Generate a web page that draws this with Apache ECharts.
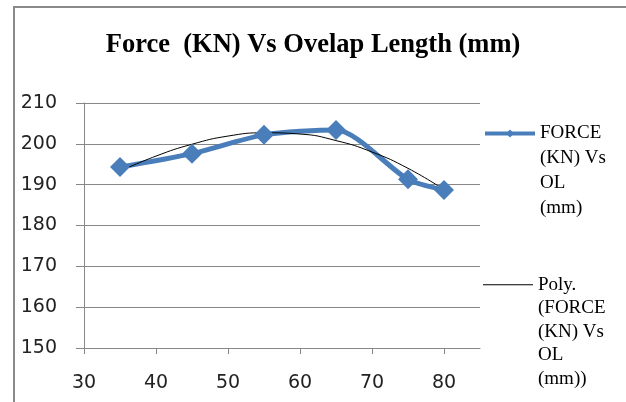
<!DOCTYPE html>
<html>
<head>
    <meta charset="utf-8">
    <title>Force Vs Ovelap Length</title>
    <script src="https://cdn.jsdelivr.net/npm/echarts@6/dist/echarts.min.js"></script>
    <style>
        html, body { margin: 0; padding: 0; background: #fff; }
    </style>
</head>
<body>
    <div id="main" style="width: 626px;height:402px;"></div>
    <script type="text/javascript">
        // data
        var overlap = [35, 45, 55, 65, 75, 80];
        var force = [194.3, 197.6, 202.2, 203.4, 191.3, 188.7];

        // polynomial trendline, read at points along the curve
        var trendX = [35, 40, 45, 50, 55, 60, 65, 70, 75, 80];
        var trendY = [193.3, 197.0, 199.9, 201.9, 202.7, 202.4, 200.8, 198.0, 194.0, 188.8];

        var xTicks = [30, 40, 50, 60, 70, 80];
        var seriesName = 'FORCE (KN) Vs OL (mm)';
        var trendName = 'Poly. (FORCE (KN) Vs OL (mm))';
        var seriesLines = ['FORCE', '(KN) Vs', 'OL', '(mm)'];
        var trendLines = ['Poly.', '(FORCE', '(KN) Vs', 'OL', '(mm))'];

        function pairs(xs, ys) {
            var out = [];
            for (var i = 0; i < xs.length; i++) {
                out.push([xs[i], ys[i]]);
            }
            return out;
        }

        // blank lines on top so the icon sits next to the first line
        function legendText(lines) {
            var pad = [];
            for (var i = 0; i < lines.length - 1; i++) pad.push('');
            return pad.concat(lines).join('\n');
        }

        var myChart = echarts.init(document.getElementById('main'));

        var gray = '#878787';
        var blue = '#4a7ebb';

        var option = {
            animation: false,
            title: {
                text: 'Force  (KN) Vs Ovelap Length (mm)',
                left: 'center',
                top: 27,
                textStyle: {
                    fontFamily: 'Liberation Serif',
                    fontWeight: 'bold',
                    fontSize: 26.5,
                    color: '#000'
                }
            },
            legend: [{
                data: [seriesName],
                left: 483,
                top: 46,
                padding: 0,
                itemWidth: 50,
                itemHeight: 10,
                lineStyle: { width: 4 },
                formatter: function () { return legendText(seriesLines); },
                textStyle: {
                    fontFamily: 'Liberation Serif',
                    fontSize: 19,
                    lineHeight: 25,
                    color: '#000'
                }
            }, {
                data: [{ name: trendName, icon: 'rect' }],
                left: 483,
                top: 179,
                padding: 0,
                itemWidth: 50,
                itemHeight: 1,
                formatter: function () { return legendText(trendLines); },
                textStyle: {
                    fontFamily: 'Liberation Serif',
                    fontSize: 19,
                    lineHeight: 23.5,
                    color: '#000'
                }
            }],
            grid: {
                left: 84,
                right: 146,
                top: 103,
                bottom: 54
            },
            xAxis: {
                type: 'value',
                min: 30,
                max: 85,
                interval: 10,
                axisLine: { lineStyle: { color: gray } },
                axisTick: { show: true, length: 6, customValues: xTicks, lineStyle: { color: gray } },
                axisLabel: {
                    customValues: xTicks,
                    margin: 26,
                    fontFamily: 'DejaVu Sans',
                    fontSize: 19,
                    color: '#222'
                },
                splitLine: { show: false }
            },
            yAxis: {
                type: 'value',
                min: 150,
                max: 210,
                interval: 10,
                axisLine: { show: true, lineStyle: { color: gray } },
                axisTick: { show: true, length: 8, lineStyle: { color: gray } },
                axisLabel: {
                    margin: 27,
                    fontFamily: 'DejaVu Sans',
                    fontSize: 19,
                    color: '#222'
                },
                splitLine: { lineStyle: { color: gray, width: 1 } }
            },
            graphic: [{
                type: 'rect',
                shape: { x: 14, y: 7, width: 700, height: 500 },
                style: { fill: 'none', stroke: '#8a8a8a', lineWidth: 2 },
                silent: true
            }],
            series: [{
                name: seriesName,
                type: 'line',
                data: pairs(overlap, force),
                smooth: 0.25,
                symbol: 'diamond',
                symbolSize: 20,
                color: blue,
                lineStyle: { width: 5, color: blue },
                itemStyle: { color: blue }
            }, {
                name: trendName,
                type: 'line',
                data: pairs(trendX, trendY),
                smooth: true,
                symbol: 'none',
                color: '#000',
                lineStyle: { width: 1, color: '#000' },
                z: 3
            }]
        };

        myChart.setOption(option);

        window.addEventListener("resize", function(){
            myChart.resize();
        })
    </script>
</body>
</html>
